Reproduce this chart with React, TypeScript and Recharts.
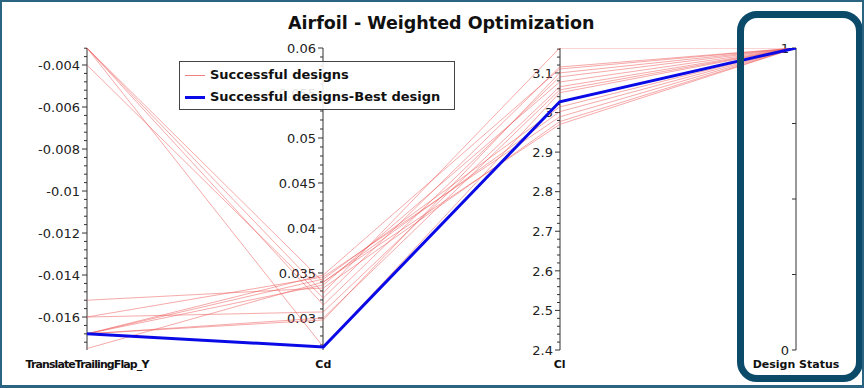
import { LineChart, Line, XAxis, YAxis, Legend } from "recharts";

// parallel axes, left to right
const AXIS_NAMES = ["TranslateTrailingFlap_Y", "Cd", "Cl", "Design Status"];
const AXIS_DOMAINS: [number, number][] = [
  [-0.01757, -0.00319],
  [0.02644, 0.06],
  [2.4, 3.163],
  [0, 1],
];

// one entry per design, index 0 is the best design
const flapY = [
  -0.0168, -0.00319, -0.00319, -0.00319, -0.00319, -0.004, -0.0152, -0.016,
  -0.016, -0.0168, -0.0168, -0.0168, -0.0168, -0.0168, -0.0175,
];
const cd = [
  0.02678, 0.02678, 0.03278, 0.03144, 0.034, 0.03222, 0.03333, 0.03067,
  0.03456, 0.03478, 0.03433, 0.03367, 0.02978, 0.03, 0.034,
];
const cl = [
  3.027, 3.05, 3.163, 3.09, 3.002, 3.115, 2.977, 3.065, 2.989, 3.11, 3.014,
  3.077, 3.1, 3.057, 2.97,
];
const designStatus = [1, 1, 1, 1, 1, 1, 1, 1, 1, 1, 1, 1, 1, 1, 1];

// tick spacing: minor step, a labelled tick every 5 minors
const MINOR_STEPS = [0.0004, 0.001, 0.02];
const STATUS_TICKS = [0, 0.25, 0.5, 0.75, 1];
const STATUS_LABELS = [0, 1];

const LEGEND_ITEMS = [
  { label: "Successful designs", color: "#f08080", width: 1 },
  { label: "Successful designs-Best design", color: "#0a0ae6", width: 3 },
];

const W = 864;
const H = 388;
const PLOT_LEFT = 87;
const PLOT_RIGHT = 796;
const PLOT_TOP = 48;
const PLOT_BOTTOM = 350;
const FONT = "'DejaVu Sans', sans-serif";

const AXIS_VALUES = [flapY, cd, cl, designStatus];
const chartRows = AXIS_VALUES.map((vals, a) => {
  const [lo, hi] = AXIS_DOMAINS[a];
  const row: Record<string, number> = { pos: a };
  vals.forEach((v, i) => {
    row[`d${i}`] = (v - lo) / (hi - lo);
  });
  return row;
});

const buildTicks = (domain: [number, number], step: number) => {
  const out: number[] = [];
  const k0 = Math.ceil(domain[0] / step - 1e-6);
  const k1 = Math.floor(domain[1] / step + 1e-6);
  for (let k = k0; k <= k1; k++) out.push(Number((k * step).toFixed(6)));
  return out;
};

const isMajorOf = (step: number) => (v: number) =>
  Math.abs(Math.round(v / step) % 5) === 0;

const makeTick =
  (isMajor: (v: number) => boolean, showLabel: (v: number) => boolean, minorLen = 3) =>
  (props: any) => {
    const { x, y, payload } = props;
    const v = payload.value as number;
    const major = isMajor(v);
    const len = major ? 5 : minorLen;
    return (
      <g>
        <line x1={x - len} x2={x} y1={y} y2={y} stroke="#333" />
        {showLabel(v) && (
          <text
            x={x - 7}
            y={y}
            dy="0.36em"
            textAnchor="end"
            fontFamily={FONT}
            fontSize={13}
            fill="#222"
          >
            {String(v)}
          </text>
        )}
      </g>
    );
  };

const NameTick = (props: any) => {
  const { x, y, payload } = props;
  const name = AXIS_NAMES[payload.value];
  return (
    <text
      x={x}
      y={y + 2}
      dy="0.71em"
      textAnchor="middle"
      fontFamily={FONT}
      fontWeight="bold"
      fontSize={11}
      letterSpacing={name.length > 15 ? -0.9 : 0}
      fill="#111"
    >
      {name}
    </text>
  );
};

const AxisOverlay = ({ left, domain, ticks, tick }: any) => (
  <div style={{ position: "absolute", left: left - 90, top: 0 }}>
    <LineChart
      width={100}
      height={H}
      data={[{ v: domain[0] }, { v: domain[1] }]}
      margin={{ top: PLOT_TOP, right: 10, bottom: H - PLOT_BOTTOM, left: 0 }}
    >
      <XAxis hide dataKey="v" />
      <YAxis
        type="number"
        domain={domain}
        allowDataOverflow
        ticks={ticks}
        interval={0}
        tick={tick}
        tickSize={0}
        tickMargin={0}
        tickLine={false}
        width={90}
        axisLine={{ stroke: "#333" }}
      />
    </LineChart>
  </div>
);

const LegendBox = () => (
  <div
    style={{
      width: 274,
      height: 45,
      paddingTop: 2,
      border: "1px solid #444",
      background: "rgba(255,255,255,0.88)",
      fontFamily: FONT,
      fontWeight: "bold",
      fontSize: 13,
      color: "#111",
    }}
  >
    {LEGEND_ITEMS.map((it) => (
      <div key={it.label} style={{ height: 22, lineHeight: "22px", whiteSpace: "nowrap" }}>
        <span
          style={{
            display: "inline-block",
            width: 20,
            height: it.width,
            background: it.color,
            margin: "0 5px 0 5px",
            verticalAlign: "middle",
          }}
        />
        {it.label}
      </div>
    ))}
  </div>
);

export default function App() {
  const step = (PLOT_RIGHT - PLOT_LEFT) / 3;
  return (
    <div style={{ position: "absolute", left: 0, top: 0, width: W, height: H, background: "#fff", overflow: "hidden" }}>
      {[0, 1, 2].map((a) => (
        <AxisOverlay
          key={a}
          left={PLOT_LEFT + a * step}
          domain={AXIS_DOMAINS[a]}
          ticks={buildTicks(AXIS_DOMAINS[a], MINOR_STEPS[a])}
          tick={makeTick(isMajorOf(MINOR_STEPS[a]), isMajorOf(MINOR_STEPS[a]))}
        />
      ))}
      <AxisOverlay
        left={PLOT_RIGHT}
        domain={AXIS_DOMAINS[3]}
        ticks={STATUS_TICKS}
        tick={makeTick(
          () => false,
          (v) => STATUS_LABELS.includes(v),
          4
        )}
      />
      <div style={{ position: "absolute", left: 0, top: 0 }}>
        <LineChart
          width={W}
          height={H}
          data={chartRows}
          margin={{ top: PLOT_TOP, right: W - PLOT_RIGHT, bottom: H - PLOT_BOTTOM - 20, left: PLOT_LEFT }}
        >
          <XAxis
            type="number"
            dataKey="pos"
            domain={[0, 3]}
            ticks={[0, 1, 2, 3]}
            interval={0}
            height={20}
            axisLine={false}
            tickLine={false}
            tick={<NameTick />}
          />
          <YAxis hide type="number" domain={[0, 1]} allowDataOverflow />
          <Legend
            layout="horizontal"
            verticalAlign="middle"
            align="center"
            content={() => <LegendBox />}
            wrapperStyle={{ left: 179, top: 61, width: 276 }}
          />
          {flapY.map((_, i) =>
            i === 0 ? null : (
              <Line
                key={i}
                dataKey={`d${i}`}
                type="linear"
                stroke="#ee5555"
                strokeOpacity={0.5}
                strokeWidth={1}
                dot={false}
                activeDot={false}
                legendType="none"
                isAnimationActive={false}
              />
            )
          )}
          <Line
            dataKey="d0"
            type="linear"
            stroke="#0a0ae6"
            strokeWidth={3}
            dot={false}
            activeDot={false}
            legendType="none"
            isAnimationActive={false}
          />
        </LineChart>
      </div>
      <div
        style={{
          position: "absolute",
          left: 288,
          top: 13,
          fontFamily: FONT,
          fontWeight: "bold",
          fontSize: 17.5,
          color: "#111",
          whiteSpace: "nowrap",
        }}
      >
        Airfoil - Weighted Optimization
      </div>
      <div
        style={{
          position: "absolute",
          left: 737,
          top: 11,
          width: 126,
          height: 371,
          boxSizing: "border-box",
          border: "7px solid #0c4a6a",
          borderRadius: 20,
          pointerEvents: "none",
        }}
      />
      <div
        style={{
          position: "absolute",
          left: 0,
          top: 0,
          width: W,
          height: H,
          boxSizing: "border-box",
          border: "2px solid #2a6480",
          borderBottomWidth: 3,
          pointerEvents: "none",
        }}
      />
    </div>
  );
}
